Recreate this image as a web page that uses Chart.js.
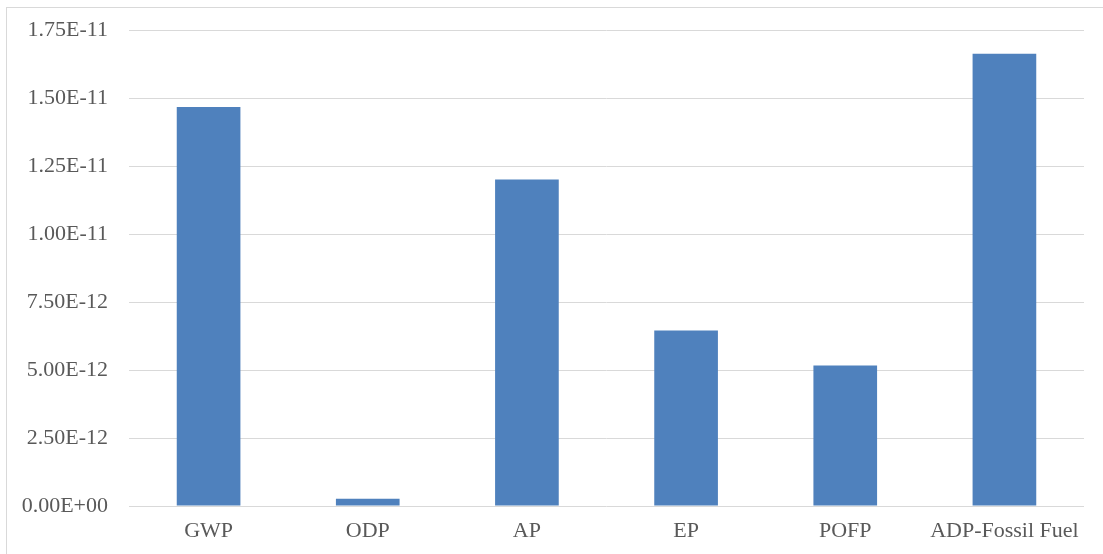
<!DOCTYPE html>
<html>
<head>
<meta charset="utf-8">
<script src="https://cdn.jsdelivr.net/npm/chart.js@4/dist/chart.umd.min.js"></script>
<style>
  html, body { margin: 0; padding: 0; background: #ffffff; }
  #wrap { position: relative; width: 1103px; height: 554px; overflow: hidden; }
  #frame { position: absolute; left: 6px; top: 7px; width: 1200px; height: 700px;
           border: 1px solid #d9d9d9; box-sizing: border-box; pointer-events: none; }
  canvas { position: absolute; left: 0; top: 0; }
</style>
</head>
<body>
<div id="wrap">
  <canvas id="chart" width="1103" height="554"></canvas>
  <div id="frame"></div>
</div>
<script>
// Impact categories and their characterised values
const categories = ['GWP', 'ODP', 'AP', 'EP', 'POFP', 'ADP-Fossil Fuel'];
const impactValues = [1.467e-11, 2.7e-13, 1.200e-11, 6.45e-12, 5.17e-12, 1.663e-11];

// Value axis ticks
const yTickValues = [0, 2.5e-12, 5.0e-12, 7.5e-12, 1.0e-11, 1.25e-11, 1.5e-11, 1.75e-11];

// Scientific notation with a two-digit exponent, e.g. 1.75E-11 / 0.00E+00
function sci(v) {
  const s = Number(v).toExponential(2).toUpperCase();
  const m = s.match(/^(-?[\d.]+)E([+-])(\d+)$/);
  if (!m) return s;
  return m[1] + 'E' + m[2] + m[3].padStart(2, '0');
}

const textColor = '#595959';
const gridColor = '#d9d9d9';
const font = { family: '"Liberation Serif", "Times New Roman", serif', size: 22 };

new Chart(document.getElementById('chart'), {
  type: 'bar',
  data: {
    labels: categories,
    datasets: [{
      data: impactValues,
      backgroundColor: '#4f81bd',
      borderWidth: 0,
      categoryPercentage: 1.0,
      barPercentage: 0.4
    }]
  },
  options: {
    responsive: false,
    animation: false,
    devicePixelRatio: 1,
    layout: { padding: { left: 0, top: 30, right: 19, bottom: 0 } },
    plugins: { legend: { display: false }, tooltip: { enabled: false } },
    scales: {
      x: {
        grid: { display: false, drawTicks: false },
        border: { display: false },
        ticks: { color: textColor, font: font, padding: 12, maxRotation: 0, autoSkip: false },
        afterFit(scale) { scale.height = 48; }
      },
      y: {
        min: 0,
        max: 1.75e-11,
        grid: { color: gridColor, lineWidth: 1, drawTicks: false },
        border: { display: false },
        ticks: {
          color: textColor,
          font: font,
          padding: 21,
          callback: (v) => sci(v)
        },
        afterBuildTicks(scale) {
          scale.ticks = yTickValues.map(v => ({ value: v }));
        },
        afterFit(scale) {
          scale.width = 129;
          scale.paddingTop = 0;
          scale.paddingBottom = 0;
        }
      }
    }
  }
});
</script>
</body>
</html>
